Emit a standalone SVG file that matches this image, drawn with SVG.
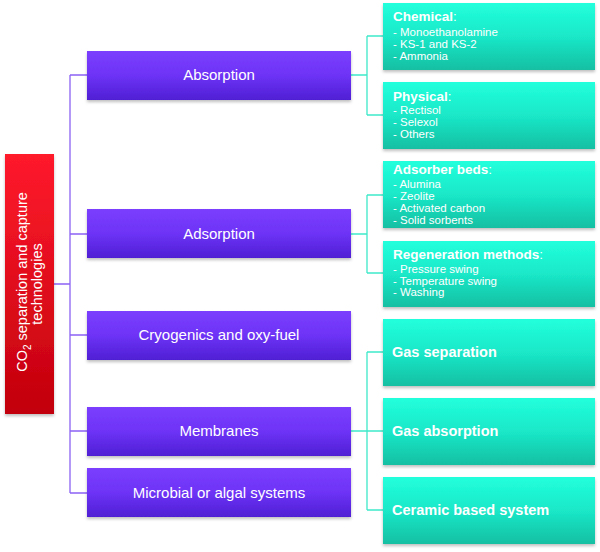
<svg xmlns="http://www.w3.org/2000/svg" width="600" height="552" viewBox="0 0 600 552">
<defs>
<linearGradient id="gRed" x1="0" y1="0" x2="0" y2="1"><stop offset="0" stop-color="#ff1a2c"/><stop offset="1" stop-color="#c2000c"/></linearGradient>
<linearGradient id="gPur" x1="0" y1="0" x2="0" y2="1"><stop offset="0" stop-color="#7b3ffe"/><stop offset="0.5" stop-color="#6d33f6"/><stop offset="1" stop-color="#4f1fd4"/></linearGradient>
<linearGradient id="gTeal" x1="0" y1="0" x2="0" y2="1"><stop offset="0" stop-color="#22ffdc"/><stop offset="0.5" stop-color="#1ae8c8"/><stop offset="1" stop-color="#12bfa2"/></linearGradient>
<filter id="sh" x="-5%" y="-5%" width="110%" height="125%"><feDropShadow dx="0" dy="2" stdDeviation="1.5" flood-color="#000" flood-opacity="0.25"/></filter>
</defs>
<style>
.red{fill:url(#gRed);filter:url(#sh)}
.pur{fill:url(#gPur);filter:url(#sh)}
.teal{fill:url(#gTeal);filter:url(#sh)}
.pl{fill:none;stroke:#8c62f4;stroke-width:1.3}
.tl{fill:none;stroke:#3ee9c9;stroke-width:1.3}
text{font-family:"Liberation Sans",Arial,sans-serif;fill:#fff}
.pt{font-size:15px;text-anchor:middle}
.hd{font-size:13.5px;font-weight:bold}
.it{font-size:11.5px}
.big{font-size:14.5px;font-weight:bold}
.rt{font-size:14.5px;text-anchor:middle}
</style>
<g id="connectors">
<path class="pl" d="M54 284H70M70 75V493M70 75H87M70 234H87M70 335H87M70 431H87M70 493H87"/>
<path class="tl" d="M351 75H367M367 36V115M367 36H383M367 115H383"/>
<path class="tl" d="M351 234H367M367 195V273M367 195H383M367 273H383"/>
<path class="tl" d="M351 431H367M367 352V510M367 352H383M367 431H383M367 510H383"/>
</g>
<g id="root">
<rect class="red" x="5" y="154" width="49" height="260"/>
<text class="rt" transform="translate(27 282) rotate(-90)">CO<tspan font-size="10" dy="4">2</tspan><tspan dy="-4"> separation and capture</tspan></text>
<text class="rt" transform="translate(42 284) rotate(-90)">technologies</text>
</g>
<g id="absorption"><rect class="pur" x="87" y="51" width="264" height="49"/><text class="pt" x="219" y="80">Absorption</text></g>
<g id="adsorption"><rect class="pur" x="87" y="209" width="264" height="49"/><text class="pt" x="219" y="239">Adsorption</text></g>
<g id="cryogenics"><rect class="pur" x="87" y="311" width="264" height="49"/><text class="pt" x="219" y="340">Cryogenics and oxy-fuel</text></g>
<g id="membranes"><rect class="pur" x="87" y="407" width="264" height="49"/><text class="pt" x="219" y="436">Membranes</text></g>
<g id="microbial"><rect class="pur" x="87" y="468" width="264" height="49"/><text class="pt" x="219" y="498">Microbial or algal systems</text></g>
<g id="chemical"><rect class="teal" x="383" y="3" width="212" height="67"/>
<text x="393" y="21"><tspan class="hd">Chemical</tspan><tspan font-size="13.5">:</tspan></text>
<text class="it" x="393" y="35.5">- Monoethanolamine</text>
<text class="it" x="393" y="47.5">- KS-1 and KS-2</text>
<text class="it" x="393" y="59.5">- Ammonia</text></g>
<g id="physical"><rect class="teal" x="383" y="82" width="212" height="67"/>
<text x="393" y="101"><tspan class="hd">Physical</tspan><tspan font-size="13.5">:</tspan></text>
<text class="it" x="393" y="114">- Rectisol</text>
<text class="it" x="393" y="126">- Selexol</text>
<text class="it" x="393" y="138">- Others</text></g>
<g id="adsorber"><rect class="teal" x="383" y="161" width="212" height="67"/>
<text x="393" y="173.5"><tspan class="hd">Adsorber beds</tspan><tspan font-size="13.5">:</tspan></text>
<text class="it" x="393" y="188">- Alumina</text>
<text class="it" x="393" y="200">- Zeolite</text>
<text class="it" x="393" y="212">- Activated carbon</text>
<text class="it" x="393" y="223.5">- Solid sorbents</text></g>
<g id="regeneration"><rect class="teal" x="383" y="241" width="212" height="66"/>
<text x="393" y="258.5"><tspan class="hd">Regeneration methods</tspan><tspan font-size="13.5">:</tspan></text>
<text class="it" x="393" y="272.5">- Pressure swing</text>
<text class="it" x="393" y="284.5">- Temperature swing</text>
<text class="it" x="393" y="296">- Washing</text></g>
<g id="gassep"><rect class="teal" x="383" y="319" width="212" height="67"/><text class="big" x="392" y="357">Gas separation</text></g>
<g id="gasabs"><rect class="teal" x="383" y="398" width="212" height="67"/><text class="big" x="392" y="436">Gas absorption</text></g>
<g id="ceramic"><rect class="teal" x="383" y="477" width="212" height="67"/><text class="big" x="392" y="515">Ceramic based system</text></g>
</svg>
